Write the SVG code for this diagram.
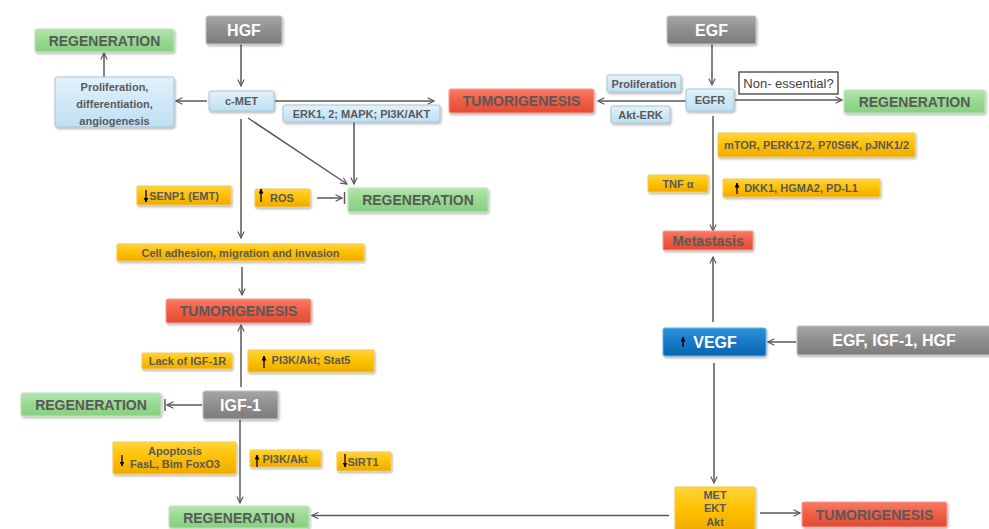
<svg xmlns="http://www.w3.org/2000/svg" width="989" height="529" viewBox="0 0 989 529">
<defs>
<linearGradient id="gGreen" x1="0" y1="0" x2="0" y2="1"><stop offset="0" stop-color="#b3e5ad"/><stop offset="0.5" stop-color="#97d991"/><stop offset="1" stop-color="#86cf80"/></linearGradient>
<linearGradient id="gRed" x1="0" y1="0" x2="0" y2="1"><stop offset="0" stop-color="#f97a63"/><stop offset="0.5" stop-color="#f05d46"/><stop offset="1" stop-color="#e24c35"/></linearGradient>
<linearGradient id="gYel" x1="0" y1="0" x2="0" y2="1"><stop offset="0" stop-color="#ffd43a"/><stop offset="0.5" stop-color="#ffc000"/><stop offset="1" stop-color="#eeaa00"/></linearGradient>
<linearGradient id="gGray" x1="0" y1="0" x2="0" y2="1"><stop offset="0" stop-color="#a6a6a6"/><stop offset="0.5" stop-color="#8e8e8e"/><stop offset="1" stop-color="#7c7c7c"/></linearGradient>
<linearGradient id="gLb" x1="0" y1="0" x2="0" y2="1"><stop offset="0" stop-color="#e3f2fb"/><stop offset="0.5" stop-color="#cfe8f7"/><stop offset="1" stop-color="#bfe0f3"/></linearGradient>
<linearGradient id="gBlue" x1="0" y1="0" x2="0" y2="1"><stop offset="0" stop-color="#2e93de"/><stop offset="0.5" stop-color="#1679c8"/><stop offset="1" stop-color="#0c66b0"/></linearGradient>
<filter id="sh" x="-10%" y="-20%" width="130%" height="160%"><feDropShadow dx="1" dy="1.5" stdDeviation="1" flood-color="#000" flood-opacity="0.3"/></filter>
<marker id="ah" viewBox="0 0 10 10" refX="9" refY="5" markerWidth="8" markerHeight="8" markerUnits="userSpaceOnUse" orient="auto"><path d="M1,1 L9,5 L1,9" fill="none" stroke="#595959" stroke-width="1.4"/></marker>
<marker id="sa" viewBox="0 0 10 10" refX="9" refY="5" markerWidth="5" markerHeight="5" markerUnits="userSpaceOnUse" orient="auto"><path d="M0,0 L10,5 L0,10 Z" fill="#000"/></marker>
</defs>
<style>
.green{fill:url(#gGreen);stroke:#bfe3ba;stroke-width:1;filter:url(#sh)}
.red{fill:url(#gRed);stroke:#f4a090;stroke-width:1;filter:url(#sh)}
.yel{fill:url(#gYel);stroke:#f2c95a;stroke-width:1;filter:url(#sh)}
.gray{fill:url(#gGray);stroke:#c4c4c4;stroke-width:1;filter:url(#sh)}
.lb{fill:url(#gLb);stroke:#a9c3d3;stroke-width:1;filter:url(#sh)}
.blue{fill:url(#gBlue);stroke:#6aaee0;stroke-width:1;filter:url(#sh)}
.white{fill:#fff;stroke:#404040;stroke-width:1.3}
text{font-family:"Liberation Sans",Arial,sans-serif;font-weight:bold;text-anchor:middle;fill:#595959}
.big{font-size:14px}
.wt{font-size:16px;fill:#fff}
.sm{font-size:11px}
.reg{font-weight:normal;font-size:13px;fill:#404040}
.c{fill:none;stroke:#595959;stroke-width:1.5}
.ar{marker-end:url(#ah)}
.up{stroke:#000;stroke-width:1.3;marker-end:url(#sa)}
</style>

<g id="connectors">
<line class="c ar" x1="241" y1="44" x2="241" y2="86"/>
<line class="c ar" x1="207" y1="101" x2="176" y2="101"/>
<line class="c ar" x1="104" y1="77" x2="104" y2="53"/>
<line class="c ar" x1="275" y1="101" x2="434" y2="101"/>
<line class="c ar" x1="241" y1="119" x2="241" y2="238"/>
<line class="c ar" x1="248" y1="118" x2="347" y2="184"/>
<line class="c ar" x1="354" y1="122" x2="354" y2="184"/>
<line class="c ar" x1="317" y1="198" x2="342" y2="198"/>
<line class="c" x1="344.5" y1="192" x2="344.5" y2="204"/>
<line class="c ar" x1="242" y1="267" x2="242" y2="295"/>
<line class="c ar" x1="241" y1="387" x2="241" y2="325"/>
<line class="c ar" x1="202" y1="405" x2="167" y2="405"/>
<line class="c" x1="165" y1="399" x2="165" y2="411"/>
<line class="c ar" x1="240" y1="420" x2="240" y2="503"/>
<line class="c ar" x1="669" y1="515.5" x2="312" y2="515.5"/>
<line class="c ar" x1="712" y1="44" x2="712" y2="85"/>
<line class="c ar" x1="686" y1="101" x2="598" y2="101"/>
<line class="c ar" x1="735" y1="100" x2="842" y2="100"/>
<line class="c ar" x1="713" y1="116" x2="713" y2="231"/>
<line class="c ar" x1="713" y1="322" x2="713" y2="257"/>
<line class="c ar" x1="796" y1="342" x2="768" y2="342"/>
<line class="c ar" x1="714" y1="363" x2="714" y2="483"/>
<line class="c ar" x1="760" y1="513" x2="800" y2="513"/>
</g>

<g id="hgf"><rect class="gray" x="206" y="16" width="76" height="28" rx="2"/><text class="wt" x="244" y="36">HGF</text></g>
<g id="regen-topleft"><rect class="green" x="35" y="29" width="139" height="23" rx="2"/><text class="big" x="104.5" y="46">REGENERATION</text></g>
<g id="prolif-diff"><rect class="lb" x="55" y="77" width="119" height="50" rx="2"/><text class="sm" x="114.5" y="91">Proliferation,</text><text class="sm" x="114.5" y="108">differentiation,</text><text class="sm" x="114.5" y="125">angiogenesis</text></g>
<g id="cmet"><rect class="lb" x="209" y="91" width="65" height="20" rx="2"/><text class="sm" x="241.5" y="105">c-MET</text></g>
<g id="erk"><rect class="lb" x="283" y="105" width="157" height="17" rx="2"/><text class="sm" x="361.5" y="117.5">ERK1, 2; MAPK; PI3K/AKT</text></g>
<g id="tumor-mid"><rect class="red" x="449" y="89" width="145" height="24" rx="2"/><text class="big" x="521.5" y="106">TUMORIGENESIS</text></g>
<g id="senp1"><rect class="yel" x="137" y="186" width="94" height="19" rx="1"/><line class="up" x1="146" y1="190" x2="146" y2="202"/><text class="sm" x="184" y="199.5">SENP1 (EMT)</text></g>
<g id="ros"><rect class="yel" x="255" y="189" width="55" height="18" rx="1"/><line class="up" x1="261" y1="202" x2="261" y2="189"/><text class="sm" x="282" y="202">ROS</text></g>
<g id="regen-mid"><rect class="green" x="348" y="188" width="140" height="24" rx="2"/><text class="big" x="418" y="205">REGENERATION</text></g>
<g id="celladh"><rect class="yel" x="117" y="244" width="247" height="17" rx="1"/><text class="sm" x="240.5" y="256.5">Cell adhesion, migration and invasion</text></g>
<g id="tumor-left"><rect class="red" x="166" y="299" width="145" height="24" rx="2"/><text class="big" x="238.5" y="316">TUMORIGENESIS</text></g>
<g id="lackigf"><rect class="yel" x="142" y="353" width="90" height="16" rx="1"/><text class="sm" x="187.5" y="365">Lack of IGF-1R</text></g>
<g id="pi3k-stat5"><rect class="yel" x="248" y="350" width="126" height="22" rx="1"/><line class="up" x1="264" y1="368" x2="264" y2="356"/><text class="sm" x="311" y="364">PI3K/Akt; Stat5</text></g>
<g id="igf1"><rect class="gray" x="203" y="391" width="75" height="28" rx="2"/><text class="wt" x="240.5" y="411">IGF-1</text></g>
<g id="regen-left"><rect class="green" x="21" y="393" width="140" height="23" rx="2"/><text class="big" x="91" y="410">REGENERATION</text></g>
<g id="apoptosis"><rect class="yel" x="113" y="442" width="123" height="32" rx="1"/><line class="up" x1="122" y1="455" x2="122" y2="466"/><text class="sm" x="175" y="455">Apoptosis</text><text class="sm" x="175" y="467.5">FasL, Bim FoxO3</text></g>
<g id="pi3k-akt"><rect class="yel" x="250" y="450" width="71" height="17" rx="1"/><line class="up" x1="257" y1="467" x2="257" y2="455"/><text class="sm" x="285" y="462.5">PI3K/Akt</text></g>
<g id="sirt1"><rect class="yel" x="337" y="452" width="54" height="19" rx="1"/><line class="up" x1="345" y1="454" x2="345" y2="467"/><text class="sm" x="363" y="466">SIRT1</text></g>
<g id="regen-bottom"><rect class="green" x="169" y="506" width="140" height="22" rx="2"/><text class="big" x="239" y="522.5">REGENERATION</text></g>

<g id="egf"><rect class="gray" x="667" y="16" width="89" height="28" rx="2"/><text class="wt" x="711.5" y="36">EGF</text></g>
<g id="egfr"><rect class="lb" x="686" y="89" width="48" height="22" rx="2"/><text class="sm" x="710" y="104">EGFR</text></g>
<g id="prolif-small"><rect class="lb" x="607" y="75" width="74" height="17" rx="2"/><text class="sm" x="644" y="87.5">Proliferation</text></g>
<g id="akterk"><rect class="lb" x="611" y="106" width="59" height="17" rx="2"/><text class="sm" x="640.5" y="118.5">Akt-ERK</text></g>
<g id="nonessential"><rect class="white" x="739" y="72" width="99" height="22"/><text class="reg" x="788.5" y="87.5">Non- essential?</text></g>
<g id="regen-right"><rect class="green" x="844" y="90" width="141" height="23" rx="2"/><text class="big" x="914.5" y="107">REGENERATION</text></g>
<g id="mtor"><rect class="yel" x="718" y="133" width="197" height="24" rx="1"/><text class="sm" x="816.5" y="149">mTOR, PERK172, P70S6K, pJNK1/2</text></g>
<g id="tnfa"><rect class="yel" x="648" y="175" width="60" height="17" rx="1"/><text class="sm" x="678" y="187.5">TNF α</text></g>
<g id="dkk1"><rect class="yel" x="723" y="179" width="157" height="18" rx="1"/><line class="up" x1="737" y1="194" x2="737" y2="183"/><text class="sm" x="801" y="192">DKK1, HGMA2, PD-L1</text></g>
<g id="metastasis"><rect class="red" x="663" y="231" width="90" height="19" rx="1"/><text class="big" x="708" y="246">Metastasis</text></g>
<g id="vegf"><rect class="blue" x="663" y="328" width="103" height="28" rx="2"/><line class="up" x1="683" y1="347" x2="683" y2="337"/><text class="wt" x="715" y="348">VEGF</text></g>
<g id="egf-igf-hgf"><rect class="gray" x="797" y="326" width="196" height="29" rx="2"/><text class="wt" x="894" y="346">EGF, IGF-1, HGF</text></g>
<g id="met-ekt-akt"><rect class="yel" x="675" y="487" width="80" height="46" rx="1"/><text class="sm" x="715" y="499">MET</text><text class="sm" x="715" y="512">EKT</text><text class="sm" x="715" y="525.5">Akt</text></g>
<g id="tumor-right"><rect class="red" x="802" y="502" width="145" height="25" rx="2"/><text class="big" x="874.5" y="519.5">TUMORIGENESIS</text></g>
</svg>
